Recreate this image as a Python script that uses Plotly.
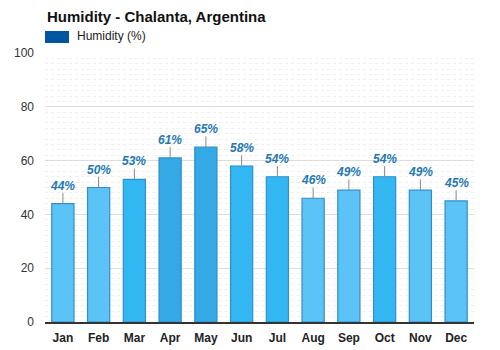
import plotly.graph_objects as go

months = ["Jan", "Feb", "Mar", "Apr", "May", "Jun", "Jul", "Aug", "Sep", "Oct", "Nov", "Dec"]
humidity = [44, 50, 53, 61, 65, 58, 54, 46, 49, 54, 49, 45]
bar_colors = ["#5cc3f7", "#5cc3f7", "#33b7f3", "#34a9e6", "#34a9e6", "#33b7f3",
              "#33b7f3", "#5cc3f7", "#5cc3f7", "#33b7f3", "#5cc3f7", "#5cc3f7"]
labels = [f"{v}%" for v in humidity]

FONT = "Arial, Liberation Sans, sans-serif"

fig = go.Figure()
fig.add_trace(go.Bar(
    x=months, y=humidity,
    marker=dict(color=bar_colors, line=dict(color="#2f8fcb", width=1.2)),
    width=0.62,
    error_y=dict(type="data", symmetric=False, array=[4] * len(humidity),
                 arrayminus=[0] * len(humidity), color="#888888", thickness=1, width=0),
    showlegend=False,
    hoverinfo="skip",
))

for m, v, t in zip(months, humidity, labels):
    fig.add_annotation(x=m, y=v, text=f"<b><i>{t}</i></b>", showarrow=False,
                       yshift=18, yanchor="middle",
                       font=dict(family=FONT, size=12, color="#2378b5"))

fig.add_annotation(xref="paper", yref="paper", x=-0.0, y=1.0, xanchor="left", yanchor="bottom",
                   yshift=26, text="<b>Humidity - Chalanta, Argentina</b>", showarrow=False,
                   font=dict(family=FONT, size=15, color="#111111"))
fig.add_shape(type="rect", xref="paper", yref="paper", x0=0, x1=24 / 429,
              ysizemode="pixel", yanchor=1.0, y0=10, y1=22,
              line=dict(width=0), fillcolor="#0057a0")
fig.add_annotation(xref="paper", yref="paper", x=30 / 429, y=1.0, xanchor="left", yanchor="bottom",
                   yshift=8, text="Humidity (%)", showarrow=False,
                   font=dict(family=FONT, size=12, color="#222222"))

fig.update_layout(
    width=500, height=350,
    margin=dict(l=45, r=26, t=53, b=28),
    paper_bgcolor="white", plot_bgcolor="white",
    font=dict(family=FONT, size=12, color="#333333"),
    bargap=0.38,
)
fig.update_xaxes(showgrid=False, showline=True, linecolor="#333333", linewidth=1.5,
                 tickfont=dict(family=FONT, size=12, color="#222222"),
                 tickprefix="<b>", ticksuffix="</b>", ticks="", ticklabelstandoff=4,
                 automargin=False, fixedrange=True)
fig.update_yaxes(range=[0, 100], dtick=20, showgrid=True, gridcolor="#dddddd", gridwidth=1,
                 zeroline=False, showline=False, ticks="", ticklabelstandoff=10,
                 tickfont=dict(family=FONT, size=12, color="#333333"),
                 minor=dict(dtick=2, showgrid=True, gridcolor="#efefef", griddash="dot"),
                 automargin=False, fixedrange=True)

fig.write_html("out.html")
